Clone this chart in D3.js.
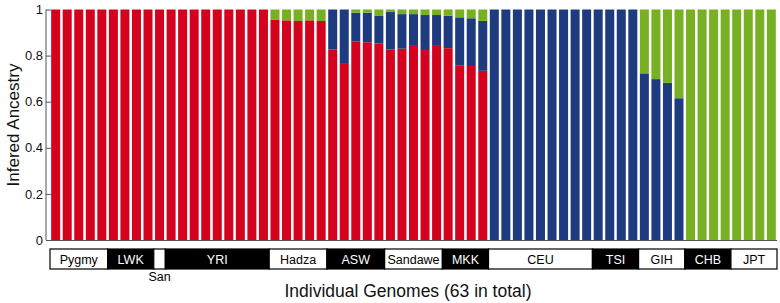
<!DOCTYPE html>
<html>
<head>
<meta charset="utf-8">
<script src="https://cdn.jsdelivr.net/npm/d3@7"></script>
<style>
  body { margin: 0; background: #fff; }
  svg { display: block; font-family: "Liberation Sans", Arial, sans-serif; }
</style>
</head>
<body>
<div id="chart"></div>
<script>
// populations and how many genomes each has (left to right)
var populations = ["Pygmy", "LWK", "San", "YRI", "Hadza", "ASW", "Sandawe", "MKK", "CEU", "TSI", "GIH", "CHB", "JPT"];
var popSizes    = [5, 4, 1, 9, 5, 5, 5, 4, 9, 4, 4, 4, 4];

// inferred ancestry per individual (63 genomes)
var african = [
  1, 1, 1, 1, 1,
  1, 1, 1, 1,
  1,
  1, 1, 1, 1, 1, 1, 1, 1, 1,
  0.955, 0.953, 0.950, 0.953, 0.950,
  0.827, 0.764, 0.862, 0.858, 0.853,
  0.827, 0.830, 0.842, 0.824, 0.842,
  0.832, 0.758, 0.755, 0.734,
  0, 0, 0, 0, 0, 0, 0, 0, 0,
  0, 0, 0, 0,
  0, 0, 0, 0,
  0, 0, 0, 0,
  0, 0, 0, 0
];
var european = [
  0, 0, 0, 0, 0,
  0, 0, 0, 0,
  0,
  0, 0, 0, 0, 0, 0, 0, 0, 0,
  0, 0, 0, 0, 0,
  0.173, 0.236, 0.124, 0.128, 0.119,
  0.162, 0.150, 0.138, 0.152, 0.134,
  0.141, 0.208, 0.207, 0.217,
  1, 1, 1, 1, 1, 1, 1, 1, 1,
  1, 1, 1, 1,
  0.723, 0.698, 0.682, 0.615,
  0, 0, 0, 0,
  0, 0, 0, 0
];
var asian = [
  0, 0, 0, 0, 0,
  0, 0, 0, 0,
  0,
  0, 0, 0, 0, 0, 0, 0, 0, 0,
  0.045, 0.047, 0.050, 0.047, 0.050,
  0, 0, 0.014, 0.014, 0.028,
  0.011, 0.020, 0.020, 0.024, 0.024,
  0.027, 0.034, 0.038, 0.049,
  0, 0, 0, 0, 0, 0, 0, 0, 0,
  0, 0, 0, 0,
  0.277, 0.302, 0.318, 0.385,
  1, 1, 1, 1,
  1, 1, 1, 1
];
var yTicks = [0, 0.2, 0.4, 0.6, 0.8, 1];

var width = 780, height = 303;
var plot = {left: 50, right: 777, top: 9.5, bottom: 240};

var svg = d3.select("#chart")
  .append("svg")
    .attr("width", width)
    .attr("height", height);

var data = african.map(function(d, i) {
  return {idx: i, african: d, european: european[i], asian: asian[i]};
});

var keys = ["african", "european", "asian"];
var color = d3.scaleOrdinal()
  .domain(keys)
  .range(["#d4021d", "#1f3b80", "#77b022"]);

var x = d3.scaleBand()
  .domain(d3.range(data.length))
  .range([plot.left, plot.right])
  .paddingInner(0.22)
  .paddingOuter(0.1);

var y = d3.scaleLinear()
  .domain([0, 1])
  .range([plot.bottom, plot.top]);

var stacked = d3.stack().keys(keys)(data);

svg.append("g")
  .selectAll("g")
  .data(stacked)
  .enter().append("g")
    .attr("fill", function(d) { return color(d.key); })
  .selectAll("rect")
  .data(function(d) { return d; })
  .enter().append("rect")
    .attr("x", function(d) { return x(d.data.idx); })
    .attr("y", function(d) { return y(d[1]); })
    .attr("width", x.bandwidth())
    .attr("height", function(d) { return Math.max(0, y(d[0]) - y(d[1])); });

// left axis, ticks pointing inward
var yAxis = svg.append("g")
  .attr("transform", "translate(" + (plot.left - 4) + ",0)")
  .call(d3.axisRight(y)
    .tickValues(yTicks)
    .tickSize(5)
    .tickFormat(function(d) { return d3.format("~g")(d); }));
yAxis.select(".domain").attr("stroke", "#555").attr("d", "M0," + plot.top + "V" + plot.bottom);
yAxis.selectAll(".tick line").attr("stroke", "#555");
yAxis.selectAll(".tick text")
  .attr("x", -3)
  .attr("text-anchor", "end")
  .style("font-size", "13px")
  .style("font-family", "'Liberation Sans', Arial, sans-serif")
  .attr("fill", "#111");

svg.append("line")
  .attr("x1", plot.left - 4).attr("x2", plot.right)
  .attr("y1", plot.bottom + 0.5).attr("y2", plot.bottom + 0.5)
  .attr("stroke", "#555");

// population label strip
var starts = [];
var acc = 0;
popSizes.forEach(function(n) { starts.push(acc); acc += n; });
var step = x.step();
var boxTop = 249, boxH = 20;

var pop = svg.append("g").selectAll("g")
  .data(populations)
  .enter().append("g");

pop.append("rect")
  .attr("x", function(d, i) { return i === 0 ? plot.left : x(starts[i]) - step * 0.11; })
  .attr("y", boxTop)
  .attr("width", function(d, i) {
    var x0 = i === 0 ? plot.left : x(starts[i]) - step * 0.11;
    var last = starts[i] + popSizes[i];
    var x1 = last >= data.length ? plot.right : x(last) - step * 0.11;
    return x1 - x0;
  })
  .attr("height", boxH)
  .attr("fill", function(d, i) { return i % 2 ? "#000" : "#fff"; })
  .attr("stroke", "#000")
  .attr("stroke-width", 1.2);

pop.append("text")
  .attr("x", function(d, i) {
    var a = x(starts[i]), b = x(starts[i] + popSizes[i] - 1) + x.bandwidth();
    return (a + b) / 2;
  })
  .attr("y", function(d) { return d === "San" ? 281 : boxTop + 15; })
  .attr("text-anchor", "middle")
  .style("font-size", "12.5px")
  .attr("fill", function(d, i) { return d === "San" ? "#000" : (i % 2 ? "#fff" : "#000"); })
  .text(function(d) { return d; });

// axis titles
svg.append("text")
  .attr("x", 408)
  .attr("y", 297)
  .attr("text-anchor", "middle")
  .style("font-size", "17.5px")
  .attr("fill", "#111")
  .text("Individual Genomes (63 in total)");

svg.append("text")
  .attr("transform", "translate(19," + 125 + ") rotate(-90)")
  .attr("text-anchor", "middle")
  .style("font-size", "17px")
  .attr("fill", "#111")
  .text("Infered Ancestry");
</script>
</body>
</html>
